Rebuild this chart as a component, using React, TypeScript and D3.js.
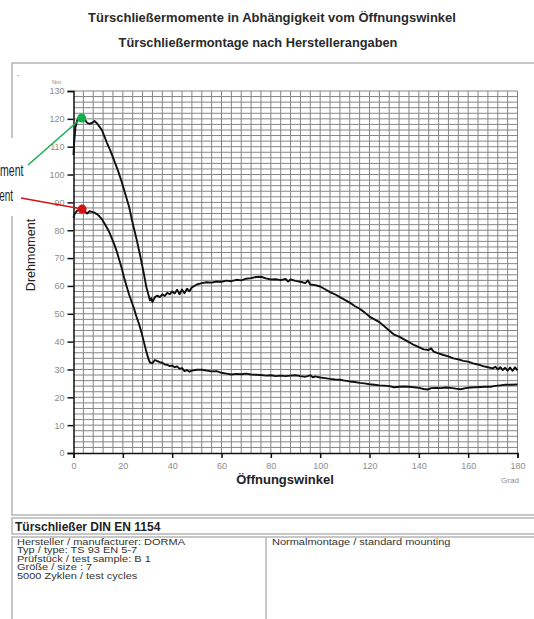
import React, { useEffect, useRef } from "react";
import * as d3 from "d3";

// Opening moment (upper curve): angle in degrees, torque in Nm
const openAngle = [
  0, 0.3, 0.8, 1.5, 2.5, 3.3, 4.5, 5.5, 6.5, 7.5, 8.5, 9.5, 10.5, 11.5, 12.5, 13.5, 15, 16.5, 18, 19.5,
  21, 22.5, 24, 25.5, 27, 28.5, 29.5, 30.5, 31, 31.5, 32, 33, 34, 35, 36, 37, 38, 39, 40, 41, 42, 43,
  44, 45, 46, 47, 48, 50, 52, 54, 56, 58, 60, 62, 64, 66, 68, 70, 72, 74, 76, 78, 80, 82, 84, 86, 87,
  88, 90, 92, 94, 95, 96, 98, 100, 102, 104, 106, 108, 110, 112, 114, 116, 118, 120, 122, 124, 126,
  128, 130, 132, 134, 136, 138, 140, 142, 144, 145, 146, 148, 150, 152, 154, 156, 158, 160, 162, 164,
  166, 168, 170, 171, 172, 173, 174, 175, 176, 177, 178, 179, 180,
];
const openTorque = [
  107, 112, 117, 119.5, 120.8, 121, 119.8, 118.6, 118.2, 118.5, 119.2, 118.4, 117.2, 116, 113.8, 111.5,
  108.5, 105, 101.5, 97.5, 93, 88.5, 82.5, 77, 71, 64.5, 59.7, 56.5, 54.8, 55.6, 54.2, 56, 56.5, 56,
  57, 56.4, 57.5, 57, 58, 57.3, 58.6, 57, 58.7, 57.4, 59, 58.1, 59.5, 60.5, 61, 61.3, 61.2, 61.6, 61.5,
  61.9, 61.7, 62.2, 62, 62.6, 62.8, 63.2, 63.3, 62.7, 62.3, 62.4, 62.1, 62.5, 61.6, 62.3, 61.8, 61.5,
  61, 62, 60.5, 60.3, 59.8, 58.8, 57.8, 57, 56, 55, 54, 52.8, 51.8, 50.5, 49, 48, 47, 45.5, 44, 42.5,
  41.8, 40.8, 39.8, 38.8, 38, 37.2, 37, 37.6, 36.4, 35.8, 35.2, 34.7, 34, 33.6, 33.1, 32.8, 32.2,
  31.8, 31.2, 30.8, 30.4, 31, 30, 30.8, 29.8, 30.6, 29.6, 30.7, 29.5, 30.8, 29.7, 30.2,
];

// Closing moment (lower curve)
const closeAngle = [
  0, 0.5, 1.5, 2.5, 3.5, 4.5, 5.5, 6.5, 7.5, 8.5, 9.5, 10.5, 11.5, 12.5, 13.5, 14.5, 15.5, 16.5, 17.5,
  18.5, 19.5, 20.5, 21.5, 22.5, 23.5, 24.5, 25.5, 26.5, 27.5, 28.5, 29.5, 30.5, 31, 32, 33, 34, 35, 36,
  37, 38, 39, 40, 41, 42, 43, 44, 45, 46, 47, 48, 50, 52, 54, 56, 58, 60, 62, 64, 66, 68, 70, 72, 74,
  76, 78, 80, 82, 84, 86, 88, 90, 92, 94, 96, 97, 98, 100, 102, 104, 106, 108, 110, 112, 114, 116, 118,
  120, 122, 124, 126, 128, 130, 132, 134, 136, 138, 140, 142, 143.5, 145, 147, 149, 151, 153, 155, 157,
  159, 161, 163, 165, 167, 169, 171, 173, 175, 177, 180,
];
const closeTorque = [
  84.5, 86, 87, 87.5, 87.6, 86.8, 86, 86.8, 86.6, 86.3, 85.8, 85, 84, 82.5, 81, 79.3, 77.2, 75, 72.5,
  69.5, 66.5, 63, 60, 57, 54.5, 52, 49, 46.5, 43.5, 40, 36.5, 33.5, 32.5, 32.3, 33.4, 33, 32.6, 32.4,
  31.8, 31.7, 31.2, 31.4, 30.8, 31.1, 30.2, 30.5, 29.4, 29.8, 29.2, 29.6, 29.9, 29.9, 29.6, 29.3, 29.4,
  28.8, 28.5, 28.2, 28.4, 28.3, 28.5, 28.2, 28.1, 28, 27.8, 27.9, 27.6, 27.8, 27.6, 27.8, 27.9, 27.6,
  27.4, 27.9, 27.2, 27.5, 27.1, 26.9, 26.6, 26.4, 26.3, 26, 25.7, 25.5, 25.2, 25, 24.7, 24.5, 24.3,
  24.2, 24, 23.6, 23.8, 23.9, 23.8, 23.6, 23.4, 23, 22.8, 23.3, 23.4, 23.3, 23.5, 23.4, 23.1, 22.9,
  23.3, 23.5, 23.6, 23.7, 23.8, 23.8, 24.1, 24.3, 24.5, 24.5, 24.6,
];

// Axis ticks
const xTicks = [0, 20, 40, 60, 80, 100, 120, 140, 160, 180];
const yTicks = [0, 10, 20, 30, 40, 50, 60, 70, 80, 90, 100, 110, 120, 130];

// Marked maxima
const markers = [
  { name: "Öffnungsmoment", angle: 3.3, torque: 120.3, color: "#12b04a", labelX: 23.5, labelY: 176, size: 17, lineX: 28, lineY: 165 },
  { name: "Schließmoment", angle: 3.5, torque: 87.6, color: "#d11414", labelX: 13, labelY: 201, size: 16, lineX: 21, lineY: 198 },
];

const infoLines = [
  "Hersteller / manufacturer: DORMA",
  "Typ / type: TS 93 EN 5-7",
  "Prüfstück / test sample: B 1",
  "Größe / size : 7",
  "5000 Zyklen / test cycles",
];

const font = "'Liberation Sans', Arial, sans-serif";

const App = () => {
  const ref = useRef<SVGSVGElement | null>(null);

  useEffect(() => {
    const svg = d3.select(ref.current);
    svg.selectAll("*").remove();

    const x = d3.scaleLinear().domain([0, 180]).range([73.5, 517.5]);
    const y = d3.scaleLinear().domain([0, 130]).range([453, 91]);

    // Titles
    svg
      .append("text")
      .attr("x", 272)
      .attr("y", 22)
      .attr("text-anchor", "middle")
      .style("font", `bold 13px ${font}`)
      .attr("fill", "#2a2a2a")
      .text("Türschließermomente in Abhängigkeit vom Öffnungswinkel");
    svg
      .append("text")
      .attr("x", 258)
      .attr("y", 47)
      .attr("text-anchor", "middle")
      .style("font", `bold 12.8px ${font}`)
      .attr("fill", "#2a2a2a")
      .text("Türschließermontage nach Herstellerangaben");

    // Outer frames
    const frame = svg.append("g").attr("fill", "none").attr("stroke", "#b5b5b5").attr("stroke-width", 1.5);
    frame.append("rect").attr("x", 12).attr("y", 63).attr("width", 540).attr("height", 452);
    frame.append("rect").attr("x", 12).attr("y", 518).attr("width", 540).attr("height", 16);
    frame.append("rect").attr("x", 12).attr("y", 537).attr("width", 540).attr("height", 100);
    frame.append("line").attr("x1", 266).attr("x2", 266).attr("y1", 537).attr("y2", 619);
    svg.append("text").attr("x", 17).attr("y", 77).style("font", `8px ${font}`).attr("fill", "#888").text("-");

    // Grid
    const grid = svg.append("g").attr("stroke", "#858585").attr("stroke-width", 1);
    grid
      .selectAll(".vgrid")
      .data(d3.range(4, 181, 4))
      .enter()
      .append("line")
      .attr("x1", (d) => x(d))
      .attr("x2", (d) => x(d))
      .attr("y1", y(130))
      .attr("y2", y(0));
    grid
      .selectAll(".hgrid")
      .data(d3.range(2, 131, 2))
      .enter()
      .append("line")
      .attr("x1", x(0))
      .attr("x2", x(180))
      .attr("y1", (d) => y(d))
      .attr("y2", (d) => y(d));

    // Axes
    const yAxis = svg
      .append("g")
      .attr("transform", `translate(${x(0)},0)`)
      .call(d3.axisLeft(y).tickValues(yTicks).tickSize(6).tickPadding(3));
    const xAxis = svg
      .append("g")
      .attr("transform", `translate(0,${y(0)})`)
      .call(d3.axisBottom(x).tickValues(xTicks).tickSize(5).tickPadding(5));
    [xAxis, yAxis].forEach((a) => {
      a.select(".domain").attr("stroke", "#111").attr("stroke-width", 1.5);
      a.selectAll(".tick line").attr("stroke", "#111").attr("stroke-width", 1.5);
      a.selectAll(".tick text").attr("fill", "#8c8c8c").style("font", `9px ${font}`);
    });

    // Axis labels
    svg.append("text").attr("x", 52).attr("y", 84).style("font", `6px ${font}`).attr("fill", "#888").text("Nm");
    svg
      .append("text")
      .attr("transform", `translate(35,255) rotate(-90)`)
      .attr("text-anchor", "middle")
      .style("font", `12.5px ${font}`)
      .attr("fill", "#222")
      .text("Drehmoment");
    svg
      .append("text")
      .attr("x", 285)
      .attr("y", 484)
      .attr("text-anchor", "middle")
      .style("font", `bold 13px ${font}`)
      .attr("fill", "#222")
      .text("Öffnungswinkel");
    svg
      .append("text")
      .attr("x", 510)
      .attr("y", 483)
      .attr("text-anchor", "middle")
      .style("font", `8px ${font}`)
      .attr("fill", "#8c8c8c")
      .text("Grad");

    // Curves
    const line = d3
      .line<[number, number]>()
      .x((d) => x(d[0]))
      .y((d) => y(d[1]));
    const curves = [
      d3.zip(openAngle, openTorque) as [number, number][],
      d3.zip(closeAngle, closeTorque) as [number, number][],
    ];
    svg
      .selectAll(".curve")
      .data(curves)
      .enter()
      .append("path")
      .attr("d", (d) => line(d))
      .attr("fill", "none")
      .attr("stroke", "#111")
      .attr("stroke-width", 1.9)
      .attr("stroke-linejoin", "round");

    // Marker labels, leader lines and dots
    svg.append("rect").attr("x", 0).attr("y", 138).attr("width", 30).attr("height", 78).attr("fill", "#fff");
    markers.forEach((m) => {
      svg
        .append("text")
        .attr("transform", `translate(${m.labelX},${m.labelY}) scale(0.62,1)`)
        .attr("text-anchor", "end")
        .style("font", `${m.size}px ${font}`)
        .attr("fill", "#222")
        .text(m.name);
      svg
        .append("line")
        .attr("x1", m.lineX)
        .attr("y1", m.lineY)
        .attr("x2", x(m.angle))
        .attr("y2", y(m.torque))
        .attr("stroke", m.color)
        .attr("stroke-width", 1.5);
      svg.append("circle").attr("cx", x(m.angle)).attr("cy", y(m.torque)).attr("r", 4.5).attr("fill", m.color);
    });

    // Bottom information boxes
    svg
      .append("text")
      .attr("x", 15)
      .attr("y", 531)
      .style("font", `bold 12px ${font}`)
      .attr("fill", "#222")
      .text("Türschließer DIN EN 1154");
    svg
      .selectAll(".info")
      .data(infoLines)
      .enter()
      .append("text")
      .attr("transform", (d, i) => `translate(17,${545 + i * 8.4}) scale(1.25,1)`)
      .style("font", `8.8px ${font}`)
      .attr("fill", "#333")
      .text((d) => d);
    svg
      .append("text")
      .attr("transform", `translate(272,545) scale(1.25,1)`)
      .style("font", `8.8px ${font}`)
      .attr("fill", "#333")
      .text("Normalmontage / standard mounting");
  }, []);

  return (
    <svg
      ref={ref}
      width={534}
      height={619}
      style={{ position: "absolute", left: 0, top: 0, background: "#fff" }}
    />
  );
};

export default App;
